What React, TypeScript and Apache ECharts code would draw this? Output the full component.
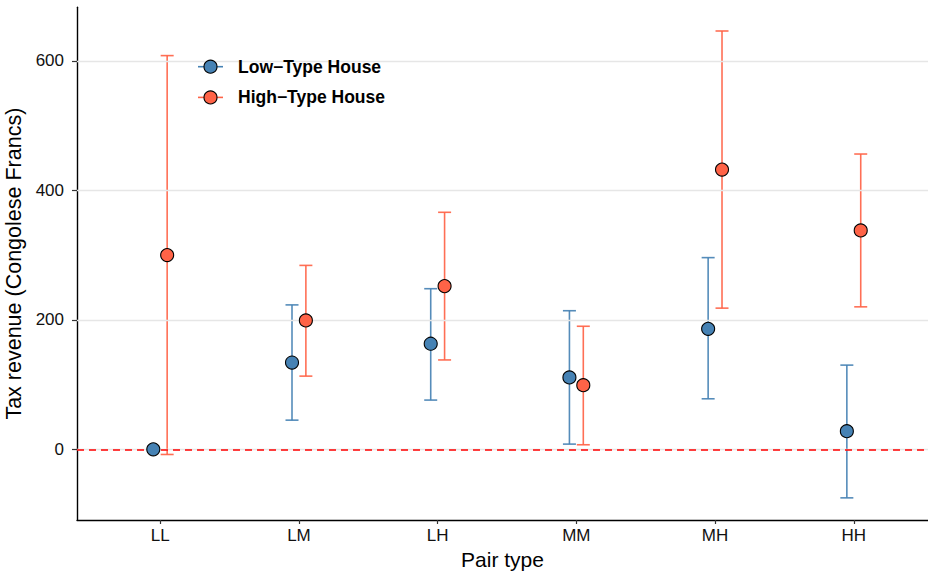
import React, { useEffect, useRef } from "react";
import * as echarts from "echarts";

const categories = ["LL", "LM", "LH", "MM", "MH", "HH"];
const lowMean = [0, 134, 163, 111, 186, 28];
const lowLower = [0, 45, 76, 8, 78, -75];
const lowUpper = [0, 223, 248, 214, 296, 130];
const highMean = [300, 199, 252, 99, 432, 338];
const highLower = [-8, 113, 138, 7, 218, 220];
const highUpper = [608, 284, 366, 190, 646, 456];
const yTicks = [0, 200, 400, 600];
const seriesNames = ["Low\u2212Type House", "High\u2212Type House"];

const BLUE = "#4682B4";
const RED = "#FF6347";
const FONT = "'Liberation Sans', Arial, Helvetica, sans-serif";
const DODGE = 0.05;

function errRender(color: string) {
  return (params: any, api: any) => {
    const x = api.value(0);
    const lo = api.value(1);
    const hi = api.value(2);
    if (lo === hi) return { type: "group", children: [] };
    const a = api.coord([x, lo]);
    const b = api.coord([x, hi]);
    const hw = 6.5;
    const style = { stroke: color, lineWidth: 1.6, opacity: 0.92 };
    return {
      type: "group",
      children: [
        { type: "line", shape: { x1: a[0], y1: a[1], x2: b[0], y2: b[1] }, style },
        { type: "line", shape: { x1: a[0] - hw, y1: a[1], x2: a[0] + hw, y2: a[1] }, style },
        { type: "line", shape: { x1: b[0] - hw, y1: b[1], x2: b[0] + hw, y2: b[1] }, style },
      ],
    };
  };
}

export default function App() {
  const ref = useRef<HTMLDivElement>(null);
  useEffect(() => {
    if (!ref.current) return;
    document.body.style.margin = "0";
    document.body.style.overflow = "hidden";
    document.documentElement.style.overflow = "hidden";
    const chart = echarts.init(ref.current, null, { renderer: "svg" });
    const lowErr = categories.map((_, i) => [i + 1 - DODGE, lowLower[i], lowUpper[i]]);
    const highErr = categories.map((_, i) => [i + 1 + DODGE, highLower[i], highUpper[i]]);
    const lowPts = categories.map((_, i) => [i + 1 - DODGE, lowMean[i]]);
    const highPts = categories.map((_, i) => [i + 1 + DODGE, highMean[i]]);
    const tickPos = categories.map((_, i) => i + 1);

    const legendRow = (y: number, color: string, label: string) => [
      { type: "line", z: 20, shape: { x1: 198, y1: y, x2: 223, y2: y }, style: { stroke: color, lineWidth: 1.6 } },
      { type: "circle", z: 21, shape: { cx: 210.5, cy: y, r: 6.5 }, style: { fill: color, stroke: "#000", lineWidth: 1.1 } },
      {
        type: "text",
        z: 21,
        x: 238,
        y: y,
        style: { text: label, fill: "#000", font: `bold 17.5px ${FONT}`, textVerticalAlign: "middle", verticalAlign: "middle" },
      },
    ];

    chart.setOption({
      animation: false,
      backgroundColor: "#fff",
      textStyle: { fontFamily: FONT },
      grid: {
        left: 77,
        right: 0,
        top: 7.3,
        bottom: 54,
        containLabel: false,
        outerBoundsMode: "none",
        show: false,
      },
      xAxis: {
        type: "value",
        position: "bottom",
        min: 0.4,
        max: 6.535,
        name: "Pair type",
        nameLocation: "middle",
        nameGap: 27,
        nameTextStyle: { fontSize: 21, color: "#000", fontFamily: FONT },
        axisLine: { show: true, onZero: false, lineStyle: { color: "#000", width: 1.4 } },
        axisTick: { show: true, customValues: tickPos, length: 4, lineStyle: { color: "#333", width: 1.2 } },
        axisLabel: {
          customValues: tickPos,
          formatter: (v: number) => categories[Math.round(v) - 1] || "",
          fontSize: 17,
          color: "#111",
          margin: 7,
          fontFamily: FONT,
        },
        splitLine: { show: false },
      },
      yAxis: {
        type: "value",
        position: "left",
        min: -109.2,
        max: 682.6,
        name: "Tax revenue (Congolese Francs)",
        nameLocation: "middle",
        nameGap: 36,
        nameTextStyle: { fontSize: 21.5, color: "#000", fontFamily: FONT },
        axisLine: { show: true, onZero: false, lineStyle: { color: "#000", width: 1.4 } },
        axisTick: { show: true, customValues: yTicks, length: 5, lineStyle: { color: "#333", width: 1.2 } },
        axisLabel: {
          customValues: yTicks,
          fontSize: 17,
          color: "#111",
          margin: 13,
          fontFamily: FONT,
        },
        splitLine: { show: false },
      },
      graphic: [
        { type: "rect", z: 5, shape: { x: 186, y: 46, width: 212, height: 70 }, style: { fill: "#fff" } },
        ...legendRow(66.7, BLUE, seriesNames[0]),
        ...legendRow(97.4, RED, seriesNames[1]),
      ],
      series: [
        {
          type: "scatter",
          name: "grid",
          data: [],
          silent: true,
          z: 1,
          markLine: {
            silent: true,
            symbol: "none",
            label: { show: false },
            lineStyle: { color: "#e6e6e6", width: 1.3, type: "solid" },
            data: yTicks.map((v) => ({ yAxis: v })),
          },
        },
        {
          type: "scatter",
          name: "zero",
          data: [],
          silent: true,
          z: 3,
          markLine: {
            silent: true,
            symbol: "none",
            label: { show: false },
            lineStyle: { color: "#FF0000", width: 1.6, type: [7, 5] },
            data: [{ yAxis: 0 }],
          },
        },
        {
          type: "custom",
          name: seriesNames[0] + " CI",
          renderItem: errRender(BLUE),
          encode: { x: 0, y: [1, 2] },
          data: lowErr,
          z: 4,
        },
        {
          type: "custom",
          name: seriesNames[1] + " CI",
          renderItem: errRender(RED),
          encode: { x: 0, y: [1, 2] },
          data: highErr,
          z: 4,
        },
        {
          type: "scatter",
          name: seriesNames[0],
          data: lowPts,
          symbol: "circle",
          symbolSize: 13,
          z: 6,
          itemStyle: { color: BLUE, borderColor: "#000", borderWidth: 1.1, opacity: 1 },
        },
        {
          type: "scatter",
          name: seriesNames[1],
          data: highPts,
          symbol: "circle",
          symbolSize: 13,
          z: 6,
          itemStyle: { color: RED, borderColor: "#000", borderWidth: 1.1, opacity: 1 },
        },
      ],
    });
    return () => chart.dispose();
  }, []);
  return (
    <div
      ref={ref}
      style={{ position: "fixed", left: 0, top: 0, width: 928, height: 574, background: "#fff" }}
    />
  );
}
